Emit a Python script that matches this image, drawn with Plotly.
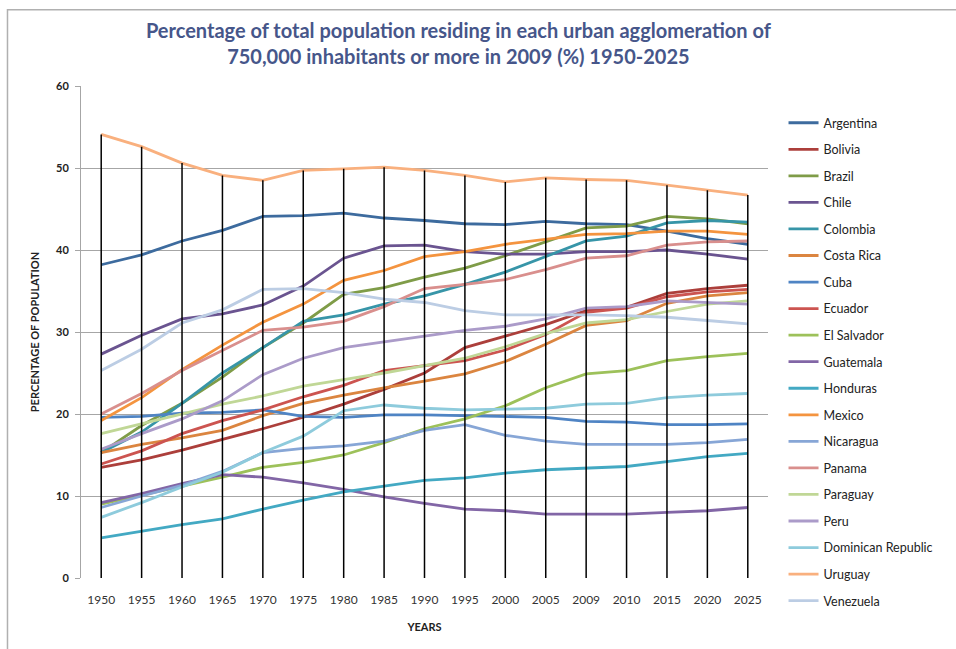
import plotly.graph_objects as go

years = ["1950", "1955", "1960", "1965", "1970", "1975", "1980", "1985", "1990",
         "1995", "2000", "2005", "2009", "2010", "2015", "2020", "2025"]

argentina = [38.2, 39.4, 41.1, 42.4, 44.1, 44.2, 44.5, 43.9, 43.6, 43.2, 43.1, 43.5, 43.2, 43.1, 42.3, 41.4, 40.7]
bolivia = [13.5, 14.4, 15.6, 16.9, 18.2, 19.6, 21.2, 23.0, 25.0, 28.1, 29.5, 30.9, 32.6, 33.0, 34.7, 35.3, 35.7]
brazil = [15.3, 18.6, 21.3, 24.5, 28.1, 31.1, 34.6, 35.4, 36.7, 37.8, 39.3, 41.0, 42.7, 42.9, 44.1, 43.8, 43.2]
chile = [27.3, 29.6, 31.6, 32.2, 33.3, 35.6, 39.0, 40.5, 40.6, 39.8, 39.5, 39.5, 39.8, 39.8, 40.0, 39.5, 38.9]
colombia = [15.3, 17.8, 21.3, 25.0, 28.1, 31.3, 32.1, 33.4, 34.4, 35.8, 37.3, 39.2, 41.1, 41.7, 43.3, 43.6, 43.4]
costa_rica = [15.3, 16.3, 17.1, 18.0, 19.8, 21.3, 22.3, 23.2, 24.0, 24.9, 26.4, 28.5, 30.8, 31.4, 33.5, 34.4, 34.8]
cuba = [19.6, 19.7, 20.1, 20.2, 20.5, 19.7, 19.6, 19.9, 19.9, 19.8, 19.7, 19.6, 19.1, 19.0, 18.7, 18.7, 18.8]
ecuador = [13.9, 15.5, 17.6, 19.2, 20.5, 22.1, 23.5, 25.3, 25.9, 26.5, 27.8, 29.7, 32.4, 32.9, 34.3, 34.9, 35.2]
el_salvador = [9.0, 10.1, 11.2, 12.3, 13.5, 14.1, 15.0, 16.5, 18.2, 19.4, 21.0, 23.2, 24.9, 25.3, 26.5, 27.0, 27.4]
guatemala = [9.2, 10.3, 11.5, 12.6, 12.3, 11.6, 10.8, 9.9, 9.1, 8.4, 8.2, 7.8, 7.8, 7.8, 8.0, 8.2, 8.6]
honduras = [4.9, 5.7, 6.5, 7.2, 8.4, 9.5, 10.5, 11.2, 11.9, 12.2, 12.8, 13.2, 13.4, 13.6, 14.2, 14.8, 15.2]
mexico = [19.2, 22.0, 25.4, 28.4, 31.2, 33.4, 36.3, 37.5, 39.2, 39.8, 40.7, 41.3, 41.9, 42.0, 42.3, 42.3, 41.9]
nicaragua = [8.6, 10.0, 11.3, 13.0, 15.3, 15.8, 16.1, 16.7, 18.0, 18.7, 17.4, 16.7, 16.3, 16.3, 16.3, 16.5, 16.9]
panama = [20.0, 22.5, 25.3, 27.7, 30.2, 30.6, 31.3, 33.1, 35.3, 35.8, 36.4, 37.6, 39.0, 39.3, 40.6, 41.0, 41.1]
paraguay = [17.6, 18.8, 20.0, 21.2, 22.2, 23.4, 24.2, 25.0, 25.9, 26.8, 28.2, 29.8, 31.1, 31.5, 32.5, 33.4, 33.8]
peru = [15.7, 17.6, 19.4, 21.6, 24.8, 26.8, 28.1, 28.8, 29.5, 30.2, 30.7, 31.6, 32.9, 33.1, 33.8, 33.6, 33.4]
dominican_republic = [7.4, 9.2, 11.1, 12.9, 15.3, 17.3, 20.4, 21.1, 20.7, 20.5, 20.6, 20.7, 21.2, 21.3, 22.0, 22.3, 22.5]
uruguay = [54.1, 52.6, 50.6, 49.1, 48.5, 49.7, 49.9, 50.1, 49.7, 49.1, 48.3, 48.8, 48.6, 48.5, 47.9, 47.3, 46.7]
venezuela = [25.3, 27.9, 31.1, 32.7, 35.2, 35.3, 34.8, 34.0, 33.6, 32.6, 32.1, 32.1, 32.1, 32.0, 31.8, 31.4, 31.0]

countries = ["Argentina", "Bolivia", "Brazil", "Chile", "Colombia", "Costa Rica", "Cuba",
             "Ecuador", "El Salvador", "Guatemala", "Honduras", "Mexico", "Nicaragua",
             "Panama", "Paraguay", "Peru", "Dominican Republic", "Uruguay", "Venezuela"]
series = [argentina, bolivia, brazil, chile, colombia, costa_rica, cuba, ecuador,
          el_salvador, guatemala, honduras, mexico, nicaragua, panama, paraguay, peru,
          dominican_republic, uruguay, venezuela]
colors = ["#3d6b9e", "#ac3f3b", "#7f9c48", "#6a5490", "#3795a8", "#db8540", "#4f84c4",
          "#cc5450", "#9dc15a", "#8266a6", "#43a9c3", "#f4943f", "#87a6d6", "#d98f8d",
          "#c0d796", "#ab9bc9", "#8ecbdc", "#f9b07e", "#bccde4"]

font_family = "Lato, 'Open Sans', sans-serif"
fig = go.Figure()

for name, vals, col in zip(countries, series, colors):
    fig.add_trace(go.Scatter(
        x=years, y=vals, name=name, mode="lines",
        line=dict(color=col, width=2.8), legendgroup=name,
    ))

# drop lines from the highest series value at each year down to the axis
drop_x, drop_y = [], []
for i, yr in enumerate(years):
    top = max(s[i] for s in series)
    drop_x += [yr, yr, None]
    drop_y += [0, top, None]
fig.add_trace(go.Scatter(x=drop_x, y=drop_y, mode="lines", showlegend=False,
                         line=dict(color="black", width=1.5), hoverinfo="skip"))

fig.update_layout(
    width=956, height=649,
    margin=dict(l=81, r=188, t=86, b=71),
    paper_bgcolor="white", plot_bgcolor="white",
    font=dict(family=font_family, color="#333333"),
    title=dict(
        text="Percentage of total population residing in each urban agglomeration of<br>750,000 inhabitants or more in 2009 (%) 1950-2025",
        x=0.4795, xanchor="center", xref="container",
        y=0.942, yanchor="middle", yref="container",
        font=dict(family=font_family, size=20, color="#46568a", weight="bold"),
    ),
    xaxis=dict(
        type="category", range=[-0.5, 16.5], showgrid=False, zeroline=False,
        showline=False, ticks="outside", ticklen=11, tickcolor="rgba(0,0,0,0)",
        tickfont=dict(size=12, color="#333333"),
        title=dict(text="YEARS", font=dict(size=11, weight="bold", color="#222222"), standoff=16),
    ),
    yaxis=dict(
        range=[0, 60], dtick=10, showgrid=True, gridcolor="#a6a6a6", gridwidth=1,
        zeroline=False, showline=True, linecolor="#a6a6a6", ticks="outside",
        ticklen=5, tickcolor="#a6a6a6",
        tickfont=dict(size=11, weight="bold", color="#222222"),
        title=dict(text="PERCENTAGE OF POPULATION", font=dict(size=11, weight="bold", color="#222222"), standoff=14),
    ),
    legend=dict(
        x=1.0226, xanchor="left", y=0.955, yanchor="top",
        font=dict(size=12.5, color="#222222"), tracegroupgap=7.3,
        bgcolor="rgba(0,0,0,0)",
    ),
    shapes=[dict(type="rect", xref="paper", yref="paper", x0=-0.107, x1=1.3, y0=-0.2, y1=1.155,
                 line=dict(color="#b0b0b0", width=1.5), layer="below")],
)
try:
    fig.update_layout(legend_maxheight=600)
except Exception:
    pass
try:
    fig.update_yaxes(ticklabelstandoff=4)
except Exception:
    pass

fig.write_html("out.html", config={"displayModeBar": False},
               post_script="document.body.style.margin='0';")
